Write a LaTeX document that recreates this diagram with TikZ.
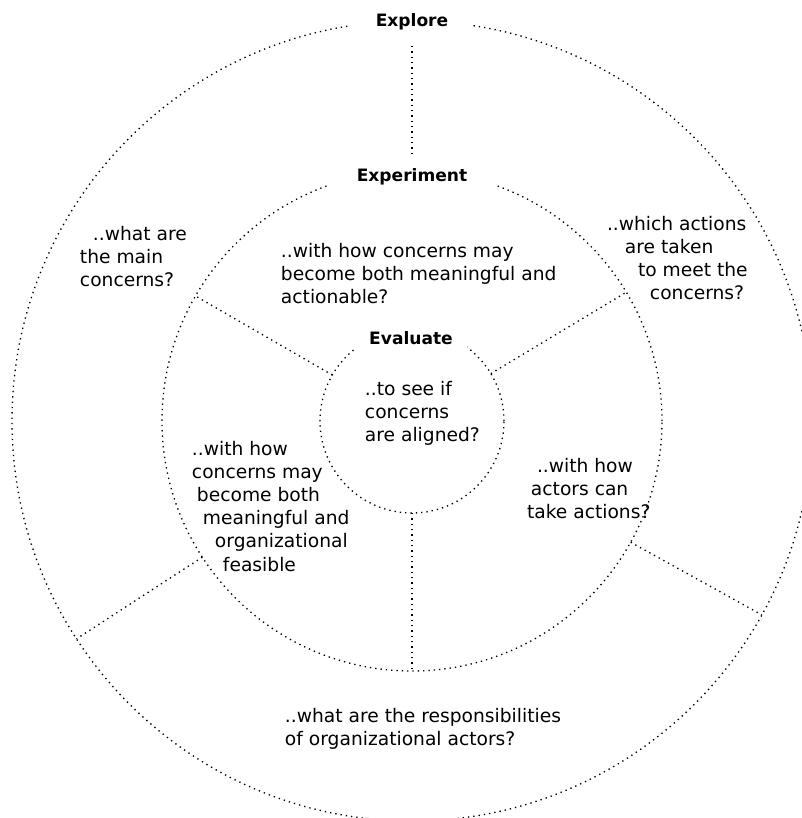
\documentclass[tikz,border=0pt]{standalone}
\usepackage{fontspec}
\setmainfont{DejaVu Sans}
\begin{document}
\begin{tikzpicture}[x=0.75pt,y=0.75pt,
  dotline/.style={line width=1pt, dash pattern=on 1pt off 3pt},
  ring/.style={circle, draw, dotline, inner sep=0pt, outer sep=0pt},
  ringlabel/.style={fill=white, inner sep=0pt, outer sep=0pt, font=\fontsize{12.8pt}{15pt}\selectfont\bfseries},
  body/.style={anchor=north west, inner sep=0pt, outer sep=0pt, align=left, font=\fontsize{14pt}{17.4pt}\selectfont}]
\useasboundingbox (-412,-397) rectangle (389,421);
% rings
\node[ring, minimum size=600pt] (outer) at (0,0) {};
\node[ring, minimum size=375pt] (middle) at (0,0) {};
\node[ring, minimum size=138pt] (inner) at (0,0) {};
% ring labels
\node[ringlabel, minimum width=91.5pt, minimum height=36pt] (explore) at (0,399) {Explore};
\node[ringlabel, minimum width=124pt, minimum height=28.5pt] (experiment) at (0,244) {Experiment};
\node[ringlabel, minimum width=84pt, minimum height=22.5pt] (evaluate) at (-1,83) {Evaluate};
% spokes
\draw[dotline] (explore) -- (experiment);
\draw[dotline] (inner.150) -- (middle.150);
\draw[dotline] (inner.31) -- (middle.31);
\draw[dotline] (inner.270) -- (middle.270);
\draw[dotline] (middle.213) -- (outer.213);
\draw[dotline] (middle.331) -- (outer.331);
% texts
\node[body] (tA) at (-332,195) {\hspace*{9.75pt}..what are\\the main\\concerns?};
\node[body] (tB) at (195,205) {..which actions\\\hspace*{13.5pt}are taken\\\hspace*{23.25pt}to meet the\\\hspace*{32.25pt}concerns?};
\node[body] (tC) at (-131,178) {..with how concerns may\\become both meaningful and\\actionable?};
\node[body] (tD) at (-47,40) {..to see if\\concerns\\are aligned?};
\node[body] (tE) at (-220,-20) {..with how\\concerns may\\\hspace*{3.75pt}become both\\\hspace*{8.25pt}meaningful and\\\hspace*{17.25pt}organizational\\\hspace*{23.25pt}feasible};
\node[body] (tF) at (115,-37) {\hspace*{7.5pt}..with how\\\hspace*{3pt}actors can\\take actions?};
\node[body] (tG) at (-127,-287) {..what are the responsibilities\\of organizational actors?};
\end{tikzpicture}
\end{document}
